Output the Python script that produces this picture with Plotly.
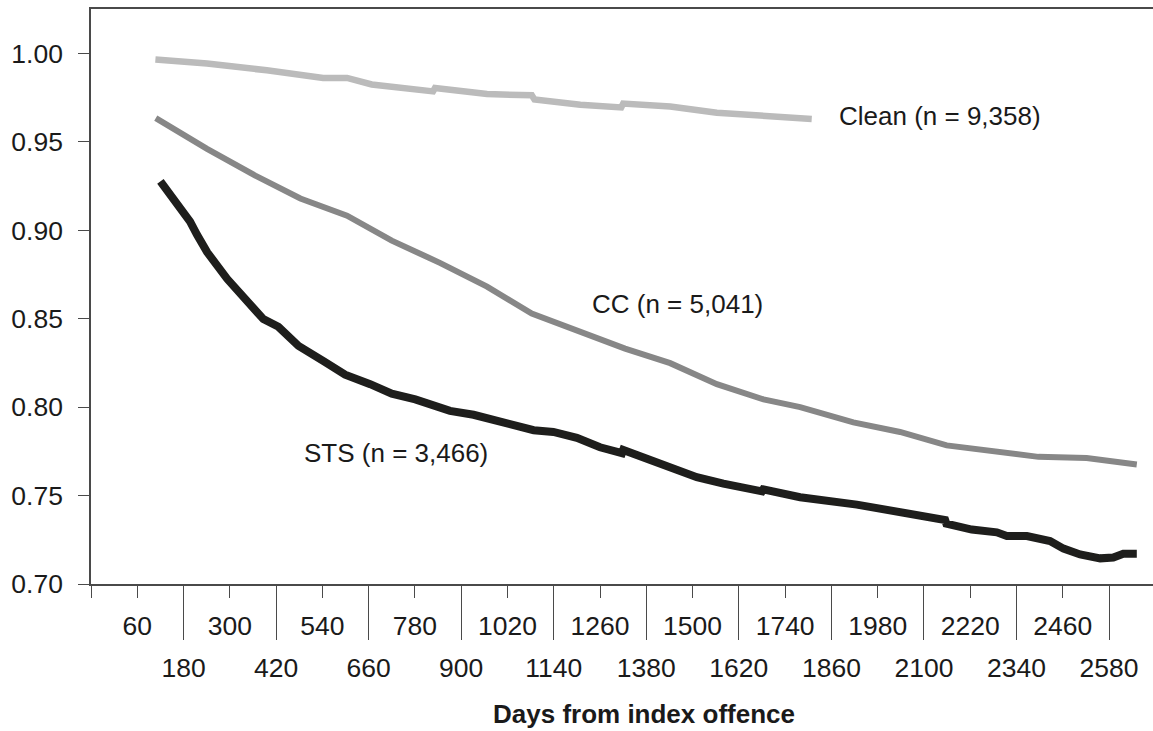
import plotly.graph_objects as go

# Survival curves by group (proportion not reconvicted vs. days from index offence)
clean_days = [107, 241, 396, 542, 604, 668, 827, 832, 967, 1083, 1090, 1209, 1315, 1320, 1442, 1563, 1809]
clean_vals = [0.9966, 0.9944, 0.9905, 0.9862, 0.9862, 0.9825, 0.9786, 0.9805, 0.9771, 0.9764, 0.9740,
              0.9710, 0.9695, 0.9717, 0.9700, 0.9665, 0.9630]

cc_days = [108, 241, 366, 483, 604, 720, 846, 967, 1083, 1209, 1325, 1442, 1563, 1684, 1779, 1917,
           2038, 2159, 2271, 2397, 2522, 2652]
cc_vals = [0.9635, 0.9461, 0.9310, 0.9180, 0.9083, 0.8942, 0.8815, 0.8682, 0.8530, 0.8422, 0.8331,
           0.8249, 0.8130, 0.8044, 0.8000, 0.7914, 0.7860, 0.7784, 0.7752, 0.7719, 0.7713, 0.7676]

sts_days = [120, 180, 197, 215, 241, 293, 362, 387, 426, 478, 543, 599, 664, 720, 781, 871, 932, 1018,
            1088, 1139, 1200, 1260, 1317, 1320, 1381, 1451, 1511, 1580, 1680, 1683, 1779, 1926, 2047,
            2155, 2158, 2224, 2289, 2315, 2367, 2427, 2462, 2505, 2557, 2591, 2617, 2652]
sts_vals = [0.9277, 0.9093, 0.9050, 0.8975, 0.8877, 0.8726, 0.8552, 0.8498, 0.8455, 0.8347, 0.8260,
            0.8184, 0.8130, 0.8076, 0.8044, 0.7979, 0.7957, 0.7903, 0.7870, 0.7860, 0.7827, 0.7773,
            0.7740, 0.7758, 0.7708, 0.7654, 0.7604, 0.7568, 0.7524, 0.7535, 0.7491, 0.7449, 0.7405,
            0.7362, 0.7342, 0.7308, 0.7292, 0.7271, 0.7271, 0.7243, 0.7200, 0.7167, 0.7145, 0.7150,
            0.7171, 0.7171]

# Group labels: (text, day, value)
labels = [
    ("Clean (n = 9,358)", 1874, 0.9645),
    ("CC (n = 5,041)", 1234, 0.8585),
    ("STS (n = 3,466)", 486, 0.7743),
]

# Tick labels on the day axis, split over two staggered rows
row1_ticks = [60, 300, 540, 780, 1020, 1260, 1500, 1740, 1980, 2220, 2460]
row2_ticks = [180, 420, 660, 900, 1140, 1380, 1620, 1860, 2100, 2340, 2580]
y_ticks = [0.70, 0.75, 0.80, 0.85, 0.90, 0.95, 1.00]

X_RANGE = [-60, 2694]
Y_RANGE = [0.70, 1.0252]
FONT = "Liberation Sans, Arial, sans-serif"
TEXT = "#1a1a1a"
AXIS = "#4a4a4a"
TICK_SIZE = 26.5

fig = go.Figure()
fig.add_trace(go.Scatter(x=clean_days, y=clean_vals, mode="lines",
                         line=dict(color="#bbbbbb", width=6.5), showlegend=False))
fig.add_trace(go.Scatter(x=cc_days, y=cc_vals, mode="lines",
                         line=dict(color="#878787", width=6), showlegend=False))
fig.add_trace(go.Scatter(x=sts_days, y=sts_vals, mode="lines",
                         line=dict(color="#1e1e1c", width=8), showlegend=False))
# empty trace so the second (staggered) tick axis is drawn
fig.add_trace(go.Scatter(x=[], y=[], xaxis="x2", showlegend=False, hoverinfo="skip"))

for text, d, v in labels:
    fig.add_annotation(x=d, y=v, text=text, showarrow=False, xanchor="left", yanchor="middle",
                       font=dict(family=FONT, size=26, color=TEXT))

fig.add_annotation(x=0.5207, y=-0.226, xref="paper", yref="paper", text="<b>Days from index offence</b>",
                   showarrow=False, xanchor="center", yanchor="middle",
                   font=dict(family=FONT, size=26, color=TEXT))

fig.update_layout(
    width=1153, height=731,
    margin=dict(l=91, r=0, t=9, b=147),
    plot_bgcolor="white", paper_bgcolor="white",
    font=dict(family=FONT, size=26, color=TEXT),
    xaxis=dict(
        range=X_RANGE, tickmode="array",
        tickvals=[-60] + row1_ticks, ticktext=[""] + [str(t) for t in row1_ticks],
        ticks="outside", ticklen=12, tickwidth=1.3, tickcolor=AXIS, ticklabelstandoff=5,
        showline=True, linecolor=AXIS, linewidth=1.5, mirror=True,
        showgrid=False, zeroline=False,
        tickfont=dict(family=FONT, size=TICK_SIZE, color=TEXT),
    ),
    xaxis2=dict(
        range=X_RANGE, overlaying="x", anchor="y", side="bottom", tickmode="array",
        tickvals=row2_ticks, ticktext=[str(t) for t in row2_ticks],
        ticks="outside", ticklen=55, tickwidth=1.3, tickcolor=AXIS, ticklabelstandoff=5,
        showline=False, showgrid=False, zeroline=False,
        tickfont=dict(family=FONT, size=TICK_SIZE, color=TEXT),
    ),
    yaxis=dict(
        range=Y_RANGE, tickmode="array", tickvals=y_ticks, tickformat=".2f",
        ticks="outside", ticklen=11, tickwidth=1.3, tickcolor=AXIS, ticklabelstandoff=10,
        showline=True, linecolor=AXIS, linewidth=1.5,
        showgrid=False, zeroline=False,
        tickfont=dict(family=FONT, size=TICK_SIZE, color=TEXT),
    ),
)

fig.write_html("out.html")
